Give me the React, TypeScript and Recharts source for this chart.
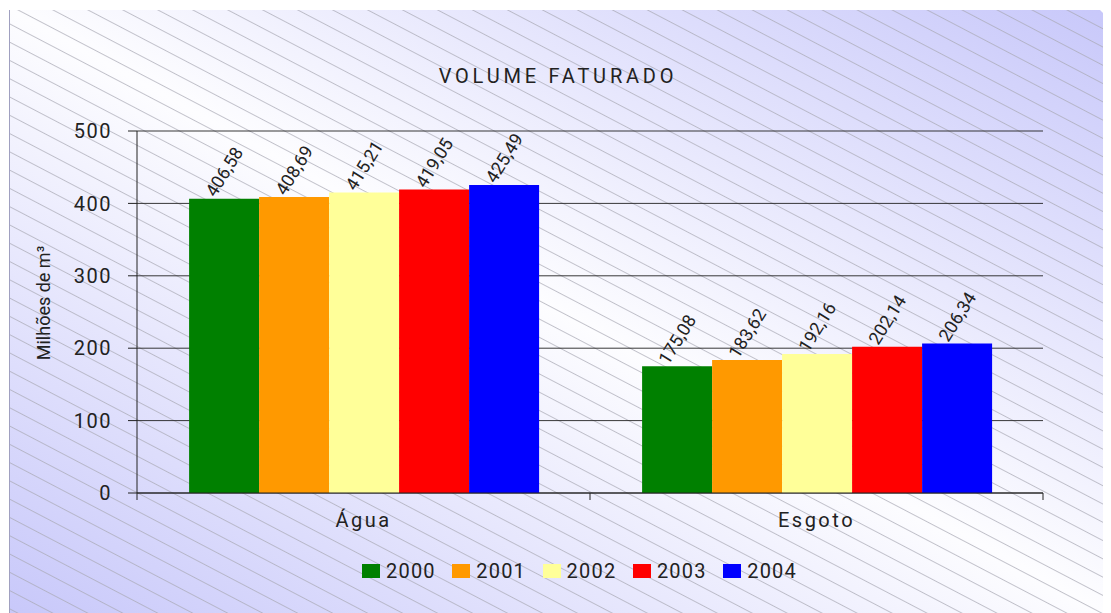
import { BarChart, Bar, XAxis, YAxis, CartesianGrid, LabelList } from 'recharts';

// categories and series
const categories = ['Água', 'Esgoto'];
const years = ['2000', '2001', '2002', '2003', '2004'];
const values2000 = [406.58, 175.08];
const values2001 = [408.69, 183.62];
const values2002 = [415.21, 192.16];
const values2003 = [419.05, 202.14];
const values2004 = [425.49, 206.34];
const yTicks = [0, 100, 200, 300, 400, 500];

const seriesValues = [values2000, values2001, values2002, values2003, values2004];
const seriesColors = ['#008000', '#FF9900', '#FFFF99', '#FF0000', '#0000FF'];

const data = categories.map((name, i) => {
  const row: Record<string, string | number> = { name };
  years.forEach((y, s) => {
    row[y] = seriesValues[s][i];
  });
  return row;
});

const W = 1111;
const H = 613;
const X_AXIS_H = 40;
const MARGIN = { top: 131, right: 68, bottom: 120 - X_AXIS_H, left: 0 };
const Y_AXIS_W = 137;
const PLOT_W = W - MARGIN.left - MARGIN.right - Y_AXIS_W;
const FONT = 'Roboto, sans-serif';
const INK = '#222';

const fmt = (v: number) => v.toFixed(2).replace('.', ',');

function RotatedLabel(props: any) {
  const { x, y, width, value } = props;
  const cx = Number(x) + Number(width) / 2;
  const cy = Number(y) - 27;
  return (
    <text
      x={cx}
      y={cy}
      fill={INK}
      fontSize={18}
      fontFamily={FONT}
      textAnchor="middle"
      dominantBaseline="central"
      transform={`rotate(-58 ${cx} ${cy})`}
    >
      {fmt(Number(value))}
    </text>
  );
}

function YTitle(props: any) {
  const vb = props.viewBox || {};
  const cx = 43;
  const cy = Number(vb.y) + Number(vb.height) / 2 - 9;
  return (
    <text
      x={cx}
      y={cy}
      fill={INK}
      fontSize={18}
      fontFamily={FONT}
      textAnchor="middle"
      dominantBaseline="central"
      transform={`rotate(-90 ${cx} ${cy})`}
    >
      Milhões de m³
    </text>
  );
}

function CategoryTick(props: any) {
  const { x, y, payload, index } = props;
  const half = PLOT_W / categories.length / 2;
  return (
    <g>
      <line x1={x - half} y1={y} x2={x - half} y2={y + 7} stroke={INK} />
      {index === categories.length - 1 && (
        <line x1={x + half} y1={y} x2={x + half} y2={y + 7} stroke={INK} />
      )}
      <text
        x={x}
        y={y + 34}
        fill={INK}
        fontSize={20}
        fontFamily={FONT}
        letterSpacing={2.5}
        textAnchor="middle"
      >
        {payload.value}
      </text>
    </g>
  );
}

function Background() {
  return (
    <svg width={W} height={H} style={{ position: 'absolute', left: 0, top: 0 }}>
      <defs>
        <linearGradient id="panelFill" x1="0" y1="1" x2="1" y2="0">
          <stop offset="0" stopColor="#c8c8fa" />
          <stop offset="0.5" stopColor="#fdfdff" />
          <stop offset="1" stopColor="#c8c8fa" />
        </linearGradient>
        <pattern
          id="hatch"
          patternUnits="userSpaceOnUse"
          width={12}
          height={16.2}
          patternTransform="rotate(27.6)"
        >
          <line x1={0} y1={0.5} x2={12} y2={0.5} stroke="#a8a8b4" strokeWidth={0.7} />
        </pattern>
      </defs>
      <polygon points="9,10 1100,10 1107,17 1107,613 9,613" fill="url(#panelFill)" />
      <polygon points="9,10 1100,10 1107,17 1107,613 9,613" fill="url(#hatch)" />
      <line x1={9.5} y1={10} x2={9.5} y2={613} stroke="#a0a0c0" />
    </svg>
  );
}

function LegendRow() {
  return (
    <div
      style={{
        position: 'absolute',
        left: 362,
        top: 560,
        display: 'flex',
        fontFamily: FONT,
        fontSize: 20,
        letterSpacing: 1.2,
        color: INK,
        lineHeight: '22px',
      }}
    >
      {years.map((y, i) => (
        <div key={y} style={{ display: 'flex', alignItems: 'center', width: 90.3 }}>
          <span
            style={{
              display: 'inline-block',
              width: 18,
              height: 14,
              background: seriesColors[i],
              marginRight: 6,
            }}
          />
          <span>{y}</span>
        </div>
      ))}
    </div>
  );
}

export default function App() {
  return (
    <div style={{ position: 'relative', width: W, height: H, margin: '-8px 0 0 -8px' }}>
      <Background />
      <div
        style={{
          position: 'absolute',
          left: 9,
          width: 1098,
          top: 64,
          textAlign: 'center',
          fontFamily: FONT,
          fontSize: 20,
          letterSpacing: 3.8,
          color: INK,
        }}
      >
        VOLUME FATURADO
      </div>
      <div style={{ position: 'absolute', left: 0, top: 0 }}>
        <BarChart
          width={W}
          height={H}
          data={data}
          margin={MARGIN}
          barCategoryGap="11.5%"
          barGap={0}
        >
          <CartesianGrid horizontal vertical={false} stroke={INK} strokeOpacity={0.9} />
          <XAxis
            dataKey="name"
            axisLine={{ stroke: INK }}
            tickLine={false}
            tickSize={0}
            tickMargin={0}
            height={X_AXIS_H}
            tick={<CategoryTick />}
            interval={0}
          />
          <YAxis
            width={Y_AXIS_W}
            domain={[0, 500]}
            ticks={yTicks}
            axisLine={{ stroke: INK }}
            tickLine={{ stroke: INK }}
            tickSize={9}
            tickMargin={16}
            tick={{ fill: INK, fontSize: 20, fontFamily: FONT, letterSpacing: 1.5 }}
            label={<YTitle />}
          />
          {years.map((y, i) => (
            <Bar key={y} dataKey={y} fill={seriesColors[i]} isAnimationActive={false}>
              <LabelList dataKey={y} content={<RotatedLabel />} />
            </Bar>
          ))}
        </BarChart>
      </div>
      <LegendRow />
    </div>
  );
}
